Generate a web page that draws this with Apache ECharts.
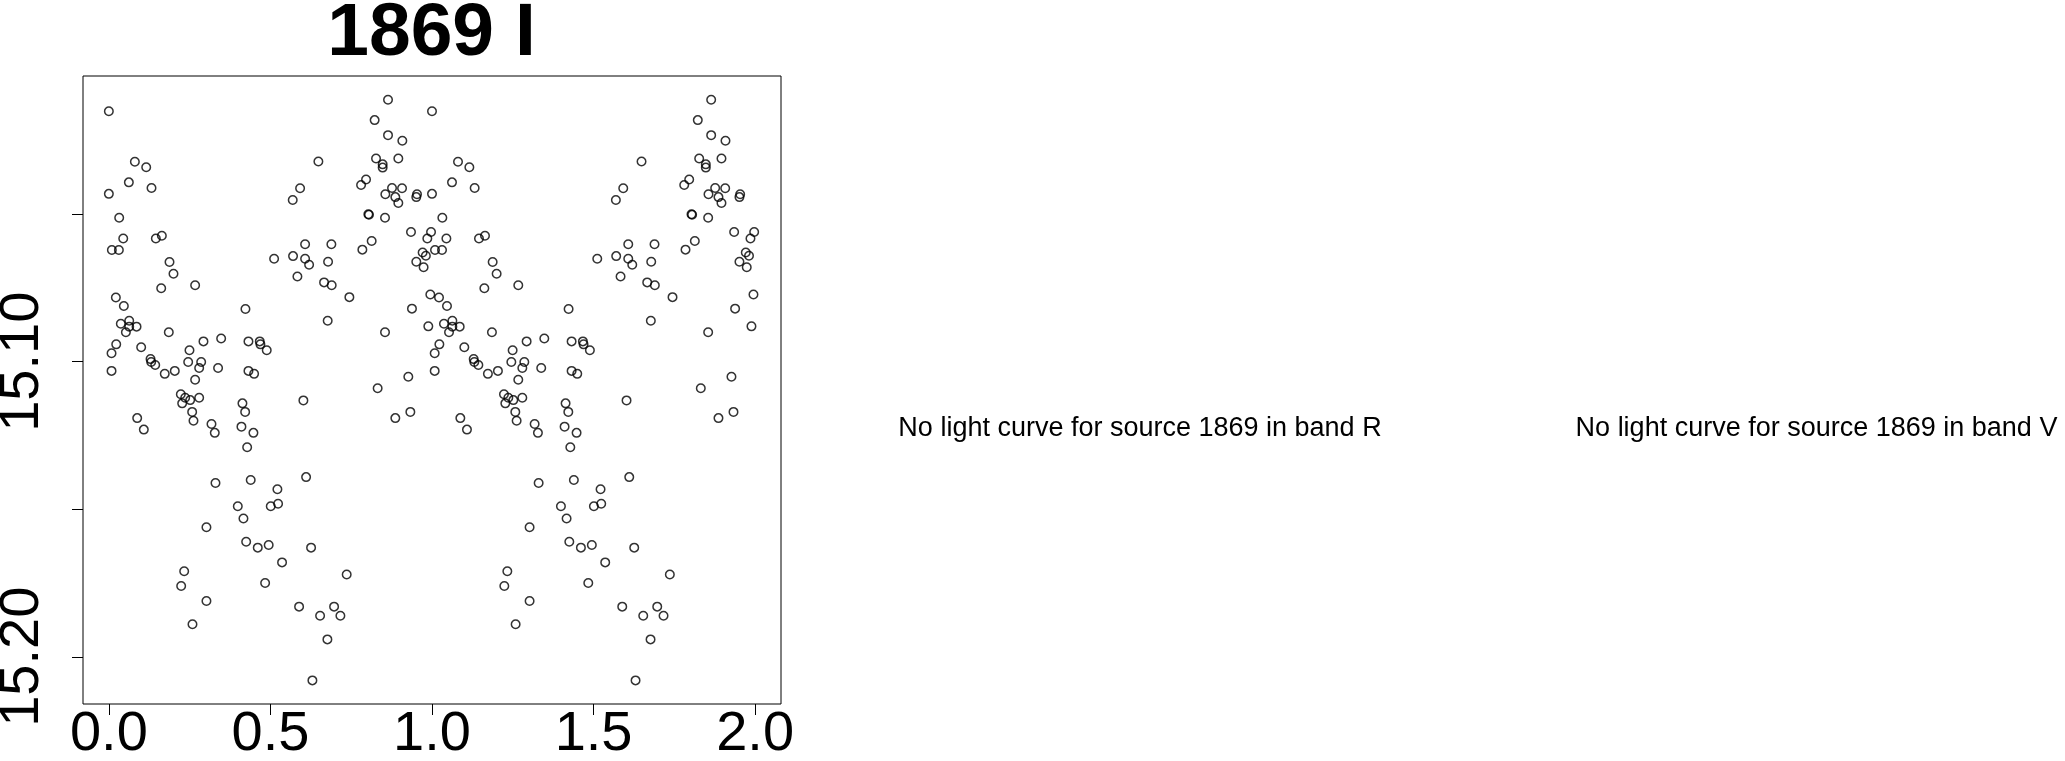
<!DOCTYPE html>
<html>
<head>
<meta charset="utf-8">
<script src="https://cdn.jsdelivr.net/npm/echarts@6/dist/echarts.min.js"></script>
<style>
html,body{margin:0;padding:0;background:#fff;}
#chart{width:2065px;height:761px;}
</style>
</head>
<body>
<div id="chart"></div>
<script>
// Folded light curve of source 1869, band I (one cycle; drawn twice, phase and phase+1)
const phase = [
0.000,0.0805,0.1156,0.0619,0.132,0.000,0.032,0.0445,0.1454,0.164,
0.0093,0.031,0.1877,0.200,0.162,0.267,0.0217,0.0464,0.4227,0.037,
0.063,0.063,0.0857,0.0527,0.1855,0.0228,0.0083,0.100,0.129,0.131,
0.1435,0.0083,0.173,0.204,0.2495,0.2455,0.2928,0.3475,0.2857,0.2795,
0.267,0.338,0.432,0.467,0.469,0.4886,0.432,0.4495,
0.2227,0.2362,0.2517,0.2269,0.2795,0.2578,0.2619,0.0877,0.1082,0.3176,
0.3278,0.4134,0.4218,0.4103,0.4474,0.428,0.330,0.439,0.399,0.4165,
0.302,0.4249,0.4608,0.4946,0.2331,0.2238,0.302,0.2588,0.4836,
0.602,0.8865,0.933,0.6104,0.5216,0.501,0.5237,0.6258,0.536,0.736,
0.5887,0.6537,0.697,0.7165,0.6763,0.6299,
0.8639,0.8225,0.8639,0.9082,0.6484,0.8268,0.8958,0.8473,0.8473,0.5918,
0.569,0.7959,0.7805,0.8556,0.8763,0.9073,0.8865,0.8958,0.9536,0.9514,
0.803,0.805,0.8546,0.935,0.997,0.9855,0.971,0.981,0.9514,0.974,
0.8133,0.7845,0.6073,0.6886,0.5114,0.570,0.6073,0.6197,0.6784,0.5835,
0.666,0.6896,0.7443,0.6772,0.8546,0.938,0.9948,0.9886,0.9267,0.8318
];
const mag = [
15.0151,15.0322,15.0341,15.0392,15.0411,15.0431,15.0512,15.0582,15.0582,15.0573,
15.0621,15.0621,15.0662,15.0702,15.0751,15.0741,15.0782,15.0811,15.0821,15.0871,
15.0861,15.0881,15.0881,15.0900,15.0900,15.0941,15.0971,15.0951,15.0991,15.1001,
15.1011,15.1031,15.1041,15.1031,15.0961,15.1001,15.0931,15.0921,15.1001,15.1021,
15.1061,15.1021,15.0931,15.0931,15.0941,15.0961,15.1031,15.1041,
15.1110,15.1122,15.1130,15.1141,15.1122,15.1170,15.1200,15.1191,15.1230,15.1211,
15.1241,15.1141,15.1170,15.1220,15.1241,15.1290,15.1411,15.1401,15.1490,15.1531,
15.1561,15.1610,15.1630,15.1621,15.1710,15.1760,15.1811,15.1890,15.1750,
15.1131,15.1191,15.1170,15.1391,15.1432,15.1490,15.1481,15.1630,15.1680,15.1721,
15.1830,15.1861,15.1830,15.1861,15.1941,15.2080,
15.0112,15.0181,15.0232,15.0251,15.0321,15.0311,15.0311,15.0331,15.0342,15.0412,
15.0452,15.0382,15.0401,15.0432,15.0411,15.0412,15.0442,15.0462,15.0432,15.0442,
15.0500,15.0502,15.0512,15.0560,15.0560,15.0582,15.0630,15.0641,15.0661,15.0680,
15.0591,15.0620,15.0602,15.0602,15.0651,15.0642,15.0651,15.0671,15.0661,15.0711,
15.0731,15.0741,15.0781,15.0861,15.0900,15.0820,15.0772,15.0880,15.1051,15.1090
];
const xTicks = [0, 0.5, 1, 1.5, 2];
const yTicks = [15.05, 15.10, 15.15, 15.20];
const yLabels = [15.10, 15.20];
const titleText = '1869 I';
const noCurveTexts = ['No light curve for source 1869 in band R', 'No light curve for source 1869 in band V'];

const points = phase.map((p, i) => [p, mag[i]]).concat(phase.map((p, i) => [p + 1, mag[i]]));

const FONT = '"Liberation Sans", Arial, Helvetica, sans-serif';
const chart = echarts.init(document.getElementById('chart'), null, {renderer: 'canvas'});
chart.setOption({
  animation: false,
  backgroundColor: '#fff',
  grid: {left: 83, right: 1284, top: 76, bottom: 57, containLabel: false, outerBoundsMode: 'none',
    show: true, borderColor: '#000', borderWidth: 1, backgroundColor: 'transparent'},
  xAxis: {
    type: 'value', min: -0.08, max: 2.08,
    axisLine: {show: false, onZero: false},
    splitLine: {show: false},
    axisTick: {show: true, customValues: xTicks, length: 11, lineStyle: {color: '#000', width: 1}},
    axisLabel: {show: true, customValues: xTicks, margin: 3, fontSize: 56, color: '#000', fontFamily: FONT,
      formatter: v => Number(v).toFixed(1)}
  },
  yAxis: {
    type: 'value', inverse: true, min: 15.00315, max: 15.2160,
    axisLine: {show: false, onZero: false},
    splitLine: {show: false},
    axisTick: {show: true, customValues: yTicks, length: 11, lineStyle: {color: '#000', width: 1}},
    axisLabel: {show: true, customValues: yLabels, rotate: 90, margin: 32, fontSize: 56, color: '#000', fontFamily: FONT,
      formatter: v => Number(v).toFixed(2)}
  },
  series: [{
    type: 'scatter',
    data: points,
    symbol: 'circle',
    symbolSize: 8.5,
    itemStyle: {color: 'rgba(0,0,0,0)', borderColor: '#000', borderWidth: 1.5},
    emphasis: {disabled: true}
  }],
  graphic: [
    {type: 'text', x: 431.5, y: 34, style: {text: titleText, font: 'bold 75px ' + FONT, fill: '#000', textAlign: 'center', textVerticalAlign: 'middle'}},
    {type: 'text', x: 1140, y: 429, style: {text: noCurveTexts[0], font: '27px ' + FONT, fill: '#000', textAlign: 'center', textVerticalAlign: 'middle'}},
    {type: 'text', x: 1816.5, y: 429, style: {text: noCurveTexts[1], font: '27px ' + FONT, fill: '#000', textAlign: 'center', textVerticalAlign: 'middle'}}
  ]
});
</script>
</body>
</html>
